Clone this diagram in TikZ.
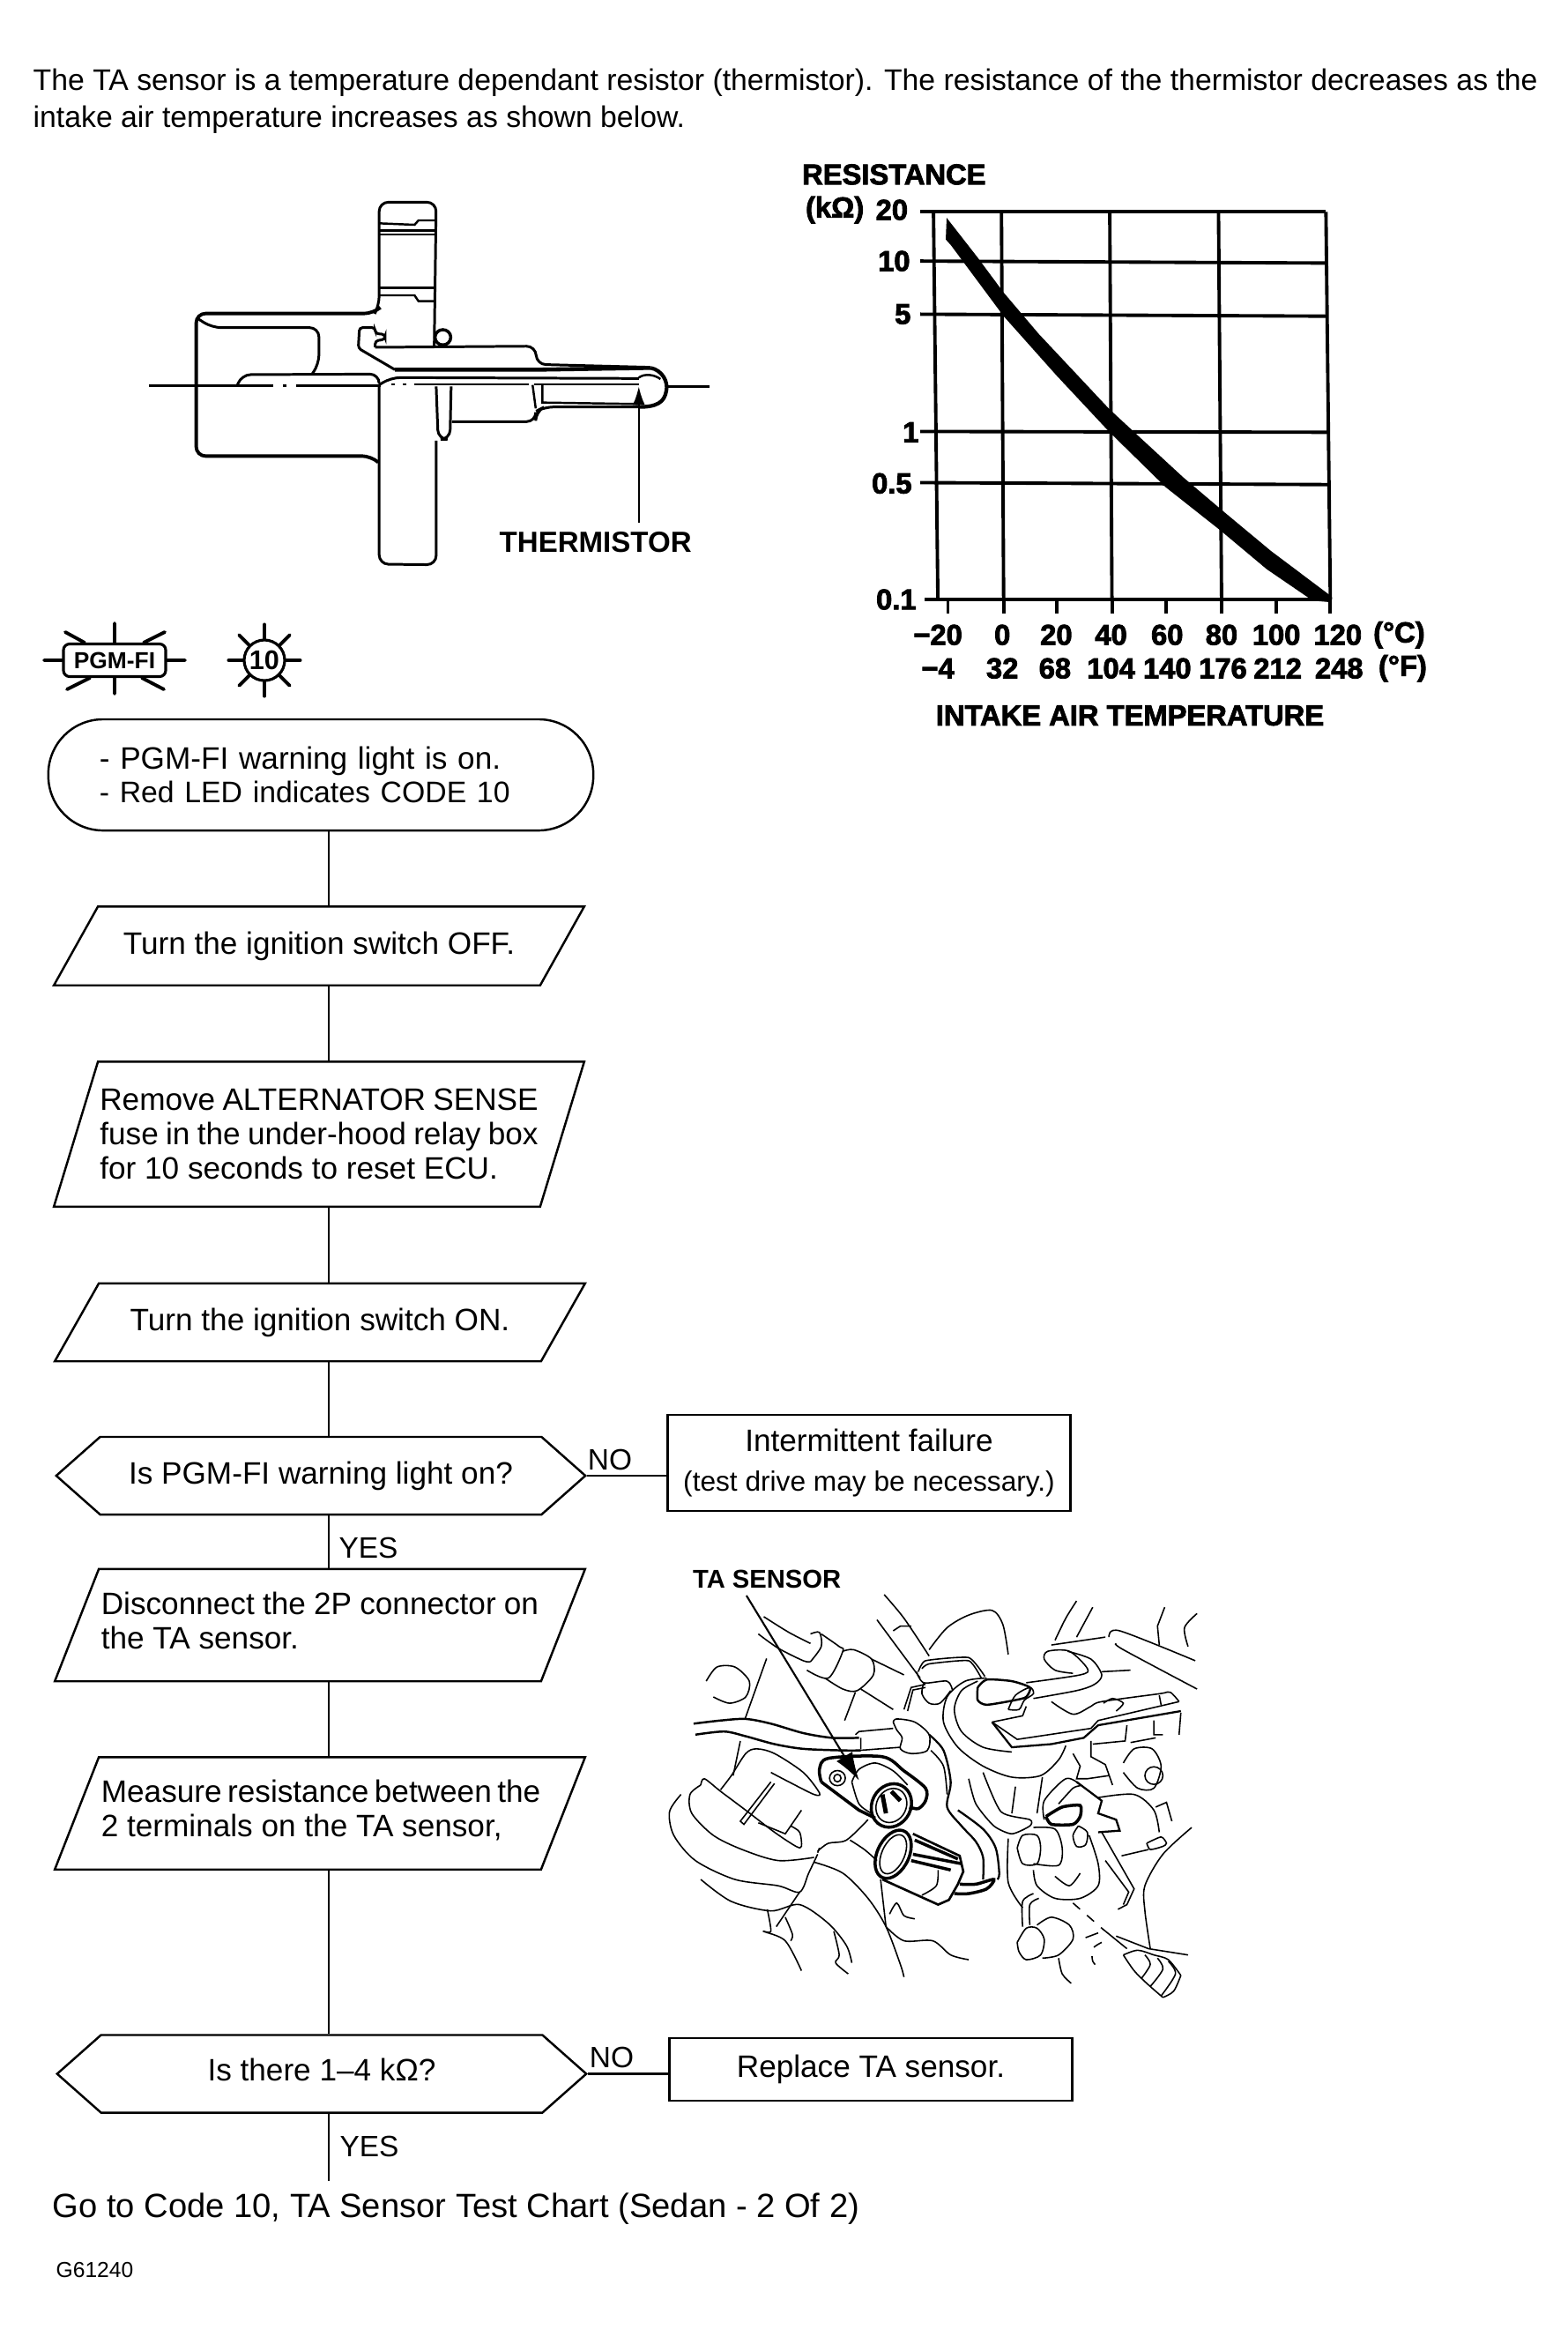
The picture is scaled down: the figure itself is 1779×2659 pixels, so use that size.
\documentclass[tikz,border=0pt]{standalone}
\usepackage{fontspec}
\setmainfont{Liberation Sans}
\newfontfamily\heavyfont[FakeBold=2.5]{Liberation Sans Bold}
\usetikzlibrary{arrows.meta,shapes.symbols}

\begin{document}
\begin{tikzpicture}[x=0.01cm,y=-0.01cm,>=Latex,
  every node/.append style={font=\fontsize{10}{11}\selectfont,inner sep=0pt},
  flowline/.style={line width=0.7pt},
  partline/.style={line width=0.85pt,rounded corners=3pt},
  gridline/.style={line width=1.1pt},
  engline/.style={line width=0.45pt},
  engthick/.style={line width=1pt},
  lampray/.style={line width=1.1pt,line cap=round},
  heavylabel/.style={font=\fontsize{9.3}{11}\heavyfont},
  stepbox/.style={minimum width=6cm},
  hexbox/.style={draw,flowline,signal,signal to=west and east,signal pointer angle=83,
    minimum width=6cm,minimum height=0.88cm},
  resultbox/.style={draw,flowline,align=center,minimum width=4.57cm},
  answer/.style={font=\fontsize{9.5}{11}\selectfont}]
  \useasboundingbox (0,0) rectangle (1779,2659);

  \node[anchor=north west,align=left,font=\fontsize{9.6}{12}\selectfont] (intro) at (37,77)
    {\makebox[17.06cm][s]{The TA sensor is a temperature dependant resistor (thermistor). The resistance of the thermistor decreases as the}\\
     intake air temperature increases as shown below.};

  % sensor section
  \begin{scope}[shift={(140,190)},xscale=0.4464,yscale=0.3333]
    \draw[partline] (640,495) -- (650,470) -- (650,118) -- (795,118) -- (790,610);
    \draw[flowline] (650,190) -- (740,195) -- (750,180) -- (795,180);
    \draw[flowline] (650,215) -- (795,215) (650,228) -- (795,228);
    \draw[flowline] (650,410) -- (790,410);
    \draw[flowline] (650,435) -- (740,435) -- (750,455) -- (790,455);
    \draw[partline,line width=1.1pt] (650,480) -- (635,497) -- (185,497) -- (185,982) -- (630,982) -- (645,1000);
    \draw[partline] (190,515) -- (225,545) -- (497,545) -- (497,670) -- (480,702);
    \draw[partline] (290,740) -- (300,705) -- (650,703) -- (650,735);
    \draw[partline] (650,745) -- (650,1350) -- (795,1352) -- (795,930);
    \draw[partline,rounded corners=1pt] (640,612) -- (640,590) -- (665,585) -- (665,568) -- (640,565) -- (640,545) -- (600,545) -- (597,615) -- (690,688);
    \draw[partline] (640,612) -- (1048,608) -- (1050,670) -- (1340,680);
    \draw[line width=1.3pt] (690,688) -- (1060,688) -- (1340,682);
    \draw[partline] (1310,718) -- (680,715) -- (650,740);
    \draw[line width=1.2pt] (1340,682) .. controls (1370,690) and (1385,730) .. (1380,760)
      .. controls (1375,800) and (1355,815) .. (1310,815);
    \draw[partline] (1310,815) -- (1070,815) -- (1048,830) -- (1048,865) -- (835,865);
    \draw[flowline] (1065,740) -- (1065,800) -- (1310,805);
    \draw[flowline] (1040,740) -- (1048,820);
    \draw[partline] (795,745) -- (800,925) -- (830,925) -- (833,745);
    \draw[flowline] (1310,715) .. controls (1325,700) and (1350,705) .. (1365,720);
    \draw[partline,line width=1pt] (812,578) circle[x radius=20,y radius=26];
    \draw[flowline] (65,743) -- (380,743) (405,743) -- (415,743) (440,743) -- (655,743)
      (680,738) -- (690,738) (710,738) -- (720,738) (740,738) -- (1030,738) (1045,738) -- (1310,738)
      (1380,746) -- (1490,746);
    \coordinate (thermtip) at (1310,745);
    \node[anchor=center,font=\fontsize{9.4}{11}\bfseries] (thermlabel) at (1200,1275) {THERMISTOR};
    \draw[-{Latex[length=6pt,width=4pt]},flowline] (thermtip |- 0,1210) -- (thermtip);
  \end{scope}

  % resistance graph
  \begin{scope}[shift={(880,160)},xscale=0.4975,yscale=0.4464]
    \foreach \ytop/\ybot/\xl/\xr in {180/180/330/1255, 305/310/330/1255, 440/445/330/1255, 738/740/330/1258, 868/873/330/1260, 1165/1165/340/1265}
      \draw[gridline] (\xl,\ytop) -- (\xr,\ybot);
    \foreach \xtop/\xbot in {360/370, 515/520, 762/767, 1010/1017, 1255/1265}
      \draw[gridline] (\xtop,180) -- (\xbot,1165);
    \foreach \xtick in {393,520,642,767,890,1017,1142,1265}
      \draw[gridline] (\xtick,1165) -- (\xtick,1200);
    \fill (390,195) -- (460,295) -- (520,385) -- (600,490) -- (760,680) -- (820,742) -- (930,855)
      -- (1020,940) -- (1130,1042) -- (1265,1155) -- (1268,1172) -- (1225,1168) -- (1120,1088)
      -- (1015,990) -- (890,880) -- (760,738) -- (640,595) -- (520,445) -- (400,265) -- (388,250) -- cycle;
    \node[heavylabel] (restitle) at (270,85) {RESISTANCE};
    \node[heavylabel] (resunit) at (135,175) {(kΩ)};
    \foreach \tx/\ty/\tv in {265/175/20, 270/305/10, 290/440/5, 308/740/1, 265/870/0.5, 275/1165/0.1}
      \node[heavylabel] (val\tv) at (\tx,\ty) {\tv};
    \foreach \tx/\tv in {370/−20, 517/0, 640/20, 765/40, 893/60, 1017/80, 1142/100, 1282/120, 1422/(°C)}
      \node[heavylabel] at (\tx,1255) {\tv};
    \foreach \tx/\tv in {370/−4, 517/32, 637/68, 765/104, 893/140, 1020/176, 1145/212, 1285/248, 1430/(°F)}
      \node[heavylabel] at (\tx,1340) {\tv};
    \node[heavylabel] (tempaxis) at (808,1460) {INTAKE AIR TEMPERATURE};
  \end{scope}

  % warning lamps
  \node[draw,line width=0.9pt,rounded corners=2pt,minimum width=1.16cm,minimum height=0.37cm,font=\fontsize{7.5}{9}\bfseries] (pgmlamp) at (130,749) {PGM-FI};
  \node[draw,circle,line width=0.9pt,minimum size=0.46cm,font=\fontsize{8.7}{10}\bfseries] (codelamp) at (300,749) {10};
  \draw[lampray] (50,749) -- (pgmlamp.west) (pgmlamp.east) -- (210,749) (130,707) -- (pgmlamp.north) (pgmlamp.south) -- (130,787)
    (74,717) -- (96,729) (187,717) -- (163,729) (76,782) -- (102,769) (186,782) -- (161,769);
  \foreach \a in {0,45,...,315}
    \draw[lampray] (codelamp.\a) -- ++(\a:0.16cm);

  % flow chart
  \node[draw,flowline,rounded corners=0.62cm,align=left,text width=5.02cm,inner xsep=0.58cm,minimum height=1.26cm] (startbox) at (364,879)
    {- PGM-FI warning light is on.\\{\fontsize{9.6}{11}\selectfont - Red LED indicates CODE 10}};
  \node[stepbox,minimum height=0.88cm] (stepoff) at (362,1073) {Turn the ignition switch OFF.};
  \node[stepbox,minimum height=1.63cm] (stepfuse) at (362,1286.5)
    {\begin{minipage}{4.97cm}\makebox[4.97cm][s]{Remove ALTERNATOR SENSE}\\\makebox[4.97cm][s]{fuse in the under-hood relay box}\\for 10 seconds to reset ECU.\end{minipage}};
  \node[stepbox,minimum height=0.87cm] (stepon) at (363,1500) {Turn the ignition switch ON.};
  \node[hexbox] (asklight) at (364,1674) {Is PGM-FI warning light on?};
  \node[resultbox,minimum height=1.09cm] (failbox) at (986,1659.5)
    {Intermittent failure\\[2pt]{\fontsize{9}{11}\selectfont (test drive may be necessary.)}};
  \node[stepbox,minimum height=1.26cm] (stepplug) at (363,1843.5)
    {\begin{minipage}{4.96cm}\makebox[4.96cm][s]{Disconnect the 2P connector on}\\the TA sensor.\par\vspace{3pt}\end{minipage}};
  \node[stepbox,minimum height=1.26cm] (stepmeter) at (363,2057)
    {\begin{minipage}{4.96cm}\makebox[4.96cm][s]{Measure resistance between the}\\2 terminals on the TA sensor,\par\vspace{2pt}\end{minipage}};
  \node[hexbox,text depth=2.8pt] (askohm) at (365,2352.5) {Is there 1–4 kΩ?};
  \node[resultbox,minimum height=0.71cm] (replacebox) at (988,2347.5) {Replace TA sensor.};

  \foreach \s in {stepoff,stepfuse,stepon,stepplug,stepmeter}
    \draw[flowline] ([xshift=0.5cm]\s.north west) -- (\s.north east) -- ([xshift=-0.5cm]\s.south east) -- (\s.south west) -- cycle;

  \coordinate (spine) at (373,0);
  \coordinate (flowend) at (373,2474);
  \foreach \a/\b in {startbox/stepoff,stepoff/stepfuse,stepfuse/stepon,stepon/asklight,asklight/stepplug,stepplug/stepmeter,stepmeter/askohm}
    \draw[flowline] (spine |- \a.south) -- (spine |- \b.north);
  \draw[flowline] (spine |- askohm.south) -- (flowend);
  \draw[flowline] (asklight.east) -- (asklight.east -| failbox.west);
  \draw[flowline] (askohm.east) -- (askohm.east -| replacebox.west);
  \node[answer] (nofail) at (692,1656) {NO};
  \node[answer] (yeslight) at (418,1756) {YES};
  \node[answer] (noohm) at (694,2334) {NO};
  \node[answer] (yesohm) at (419,2435) {YES};
  \node[anchor=west,font=\fontsize{10.85}{13}\selectfont] (gochart) at (59,2506) {Go to Code 10, TA Sensor Test Chart (Sedan - 2 Of 2)};
  \node[anchor=west,font=\fontsize{7}{9}\selectfont] (figcode) at (63,2575) {G61240};

  % engine bay
  \begin{scope}[shift={(740,1750)},xscale=0.408,yscale=0.357,every path/.append style={engline}]
    \node[font=\fontsize{8.3}{10}\bfseries] (talabel) at (319,115) {TA SENSOR};
    \coordinate (tastart) at (262,168);
    \coordinate (tatip) at (575,755);
    \draw[-{Latex[length=9pt,width=6pt]},line width=0.6pt] (tastart) -- (tatip);
    \draw plot[smooth] coordinates {(150,440) (180,395) (230,395) (270,440) (260,490) (215,510) (170,490)};
    \draw (318,368) -- (258,560) (245,630) -- (225,740);
    \draw plot[smooth] coordinates {(310,235) (380,285) (440,320)};
    \draw plot[smooth] coordinates {(295,290) (350,335) (420,375) (440,378)};
    \draw plot[smooth] coordinates {(440,290) (465,285) (470,330) (440,378)};
    \draw plot[smooth] coordinates {(470,290) (520,330) (530,345) (490,430) (430,405)};
    \draw plot[smooth] coordinates {(530,345) (560,340) (610,370) (615,420) (570,470) (530,465) (480,430)};
    \draw (610,370) -- (700,420) (565,475) -- (535,565) (580,465) -- (670,530);
    \draw[engthick,line width=0.7pt] plot[smooth] coordinates {(115,575) (190,565) (260,560) (330,575) (420,605) (500,620) (575,620)};
    \draw[engthick,line width=0.7pt] plot[smooth] coordinates {(120,610) (200,600) (260,615) (340,640) (420,655) (530,660) (580,660)};
    \draw (565,610) -- (575,600) -- (670,590) (580,620) -- (580,655) (575,660) -- (690,650);
    \draw plot[smooth] coordinates {(670,570) (680,560) (730,570) (770,610) (765,660) (720,670) (690,655) (695,620) (680,595) (670,570)};
    % sensor flange
    \draw[engthick] plot[smooth] coordinates {(470,760) (465,720) (490,685) (640,680) (700,725) (760,780) (760,820) (740,845) (715,840)};
    \draw[engthick] (470,760) -- (575,850) -- (620,875);
    \draw[engthick,rotate around={-15:(665,835)}] (665,835) ellipse[x radius=55,y radius=70];
    \draw[rotate around={-15:(665,835)}] (665,835) ellipse[x radius=42,y radius=55];
    \draw[line width=1.4pt] (640,800) -- (650,860) (665,790) -- (690,820);
    \draw (515,748) ellipse[x radius=22,y radius=24] (515,748) ellipse[x radius=10,y radius=12];
    \draw plot[smooth] coordinates {(555,760) (575,720) (620,700) (670,725) (710,770)};
    \draw plot[smooth] coordinates {(555,760) (575,830) (610,860)};
    % left cup
    \draw plot[smooth] coordinates {(80,800) (48,855) (60,930) (120,1010) (230,1070) (350,1090) (410,1110) (435,1050) (460,990)};
    \draw plot[smooth] coordinates {(135,770) (105,800) (110,860) (170,930) (250,975) (350,1010) (450,1000)};
    \draw plot[smooth] coordinates {(135,770) (145,750) (190,790) (260,850) (340,920) (400,965) (415,965) (410,920) (385,900)};
    \draw plot[smooth] coordinates {(135,1070) (220,1140) (330,1170) (410,1150) (490,1210) (540,1280) (555,1335)};
    \draw plot[smooth] coordinates {(190,785) (220,740) (260,670) (290,655) (340,670) (420,730) (465,795) (450,800) (380,760) (330,730)};
    \draw (330,760) -- (245,885) -- (255,895) -- (340,765);
    \draw (295,890) -- (370,925) -- (415,850) (460,985) -- (465,970);
    \draw plot[smooth] coordinates {(460,980) (490,955) (540,945) (600,880)};
    \draw plot[smooth] coordinates {(450,1015) (530,1050) (600,1130) (650,1220) (690,1340) (700,1380)};
    \draw (410,1110) -- (345,1220) (635,1070) -- (650,1220);
    \draw plot[smooth] coordinates {(320,1165) (330,1235) (310,1235) (370,1265) (415,1360)};
    \draw plot[smooth] coordinates {(370,1190) (390,1245) (385,1265)};
    \draw plot[smooth] coordinates {(505,1235) (520,1310) (510,1335) (545,1370)};
    \draw plot[smooth] coordinates {(550,945) (590,975) (625,1010)};
    \draw plot[smooth] coordinates {(650,1220) (700,1265) (780,1265) (830,1310) (880,1325)};
    \draw plot[smooth] coordinates {(660,1180) (680,1145) (700,1185) (730,1195)};
    % plug
    \draw[engthick,rotate around={-20:(670,990)}] (670,990) ellipse[x radius=45,y radius=80];
    \draw[rotate around={-20:(670,990)}] (670,990) ellipse[x radius=32,y radius=65];
    \draw[line width=0.75pt] (725,925) -- (855,995) -- (865,1045) -- (850,1085) -- (825,1135) -- (795,1150) -- (640,1070);
    \draw[engthick] (725,990) -- (860,1020) (730,945) -- (850,1005) (720,1010) -- (830,1040);
    \draw plot[smooth] coordinates {(795,1040) (790,1090) (750,1120)};
    \draw[engthick] plot[smooth] coordinates {(855,1085) (900,1085) (950,1070) (930,1100) (880,1115) (840,1115)};
    % harness and disc
    \draw[line width=0.65pt] plot[smooth] coordinates {(770,610) (810,660) (830,760) (820,840) (860,900) (900,950) (920,1000) (920,1070)};
    \draw plot[smooth] coordinates {(775,660) (810,710) (820,800)};
    \draw[line width=0.65pt] plot[smooth] coordinates {(850,850) (920,910) (955,970) (965,1050) (960,1070)};
    \draw plot[smooth] coordinates {(930,430) (870,440) (820,490) (810,570) (850,650) (920,710) (1000,745) (1080,740) (1130,690) (1150,645)};
    \draw plot[smooth] coordinates {(905,440) (860,470) (840,530) (860,600) (920,650) (1000,665)};
    \draw plot[smooth] coordinates {(645,165) (700,240) (770,360)};
    \draw plot[smooth] coordinates {(625,245) (680,330) (745,430)};
    \draw (670,280) -- (690,265) -- (720,265);
    \draw plot[smooth] coordinates {(770,340) (820,270) (880,230) (945,215) (975,260) (990,355)};
    \draw plot[smooth,tension=0.3] coordinates {(740,410) (760,375) (880,365) (925,425)};
    \draw plot[smooth,tension=0.3] coordinates {(750,400) (770,385) (880,375) (915,430)};
    \draw plot[smooth] coordinates {(735,410) (755,445) (820,440) (835,470)};
    \draw plot[smooth] coordinates {(755,445) (750,480) (770,510) (800,510) (830,470)};
    \draw (700,530) -- (720,460) -- (760,450) (710,535) -- (725,468) -- (760,460);
    \draw[line width=0.7pt] plot[smooth,tension=0.4] coordinates {(905,460) (930,435) (1000,440) (1050,460) (1040,490) (1010,500) (930,515) (905,500) (905,460)};
    \draw plot[smooth] coordinates {(990,530) (1010,485) (1050,460) (1060,480) (1035,500) (1020,530) (990,530)};
    \draw plot[smooth] coordinates {(1040,445) (1190,420) (1210,400) (1160,345) (1100,345) (1090,370) (1120,405) (1170,415)};
    \draw plot[smooth] coordinates {(1060,495) (1180,470) (1230,450) (1250,420) (1220,370) (1155,345)};
    \draw (1110,325) -- (1260,300) (1250,410) -- (1330,405);
    \draw plot[smooth] coordinates {(1270,300) (1300,280) (1510,375)};
    \draw plot[smooth] coordinates {(1290,320) (1310,340) (1515,465)};
    \draw plot[smooth] coordinates {(1120,310) (1150,240) (1180,185)};
    \draw (1180,300) -- (1225,205) (1405,265) -- (1425,205) (1405,265) -- (1410,325);
    \draw plot[smooth] coordinates {(1490,330) (1480,270) (1515,225)};
    % rail
    \draw (945,570) -- (1030,550) -- (1040,520);
    \draw[line width=0.65pt] (945,570) -- (1000,650) -- (1110,640) -- (1200,620) -- (1240,580) -- (1470,535);
    \draw (945,570) -- (1015,625) -- (1220,590) -- (1240,565) -- (1465,505);
    \draw plot[smooth] coordinates {(1110,505) (1170,545) (1220,520) (1250,505) (1410,480) (1440,475) (1465,505)};
    \draw plot[smooth] coordinates {(1255,510) (1280,495) (1310,510) (1290,535)};
    \draw (1410,485) -- (1415,515) (1470,540) -- (1465,610) (1320,580) -- (1315,630) -- (1225,640) (1395,565) -- (1395,610) -- (1420,610) (1330,635) -- (1400,620);
    \draw (1220,630) -- (1220,680) -- (1260,705) -- (1280,770);
    \draw plot[smooth] coordinates {(1310,700) (1340,655) (1390,655) (1415,710) (1395,780) (1350,780) (1310,730)};
    \draw (1395,740) ellipse[x radius=25,y radius=28];
    \draw (1170,670) -- (1190,710) -- (1180,750) -- (1210,750) -- (1270,740);
    \draw[line width=0.65pt] (1180,760) -- (1250,820) -- (1240,860) -- (1290,880) -- (1300,915) -- (1240,920);
    \draw plot[smooth] coordinates {(1240,810) (1340,800) (1395,850) (1410,920)};
    \draw (1400,840) -- (1430,825) -- (1445,885);
    \draw plot[smooth,tension=0.4] coordinates {(1375,955) (1415,935) (1430,955) (1420,965) (1385,975) (1375,955)};
    \draw (1305,995) -- (1380,975);
    % throttle
    \draw plot[smooth] coordinates {(1015,970) (1030,930) (1070,930) (1080,970) (1070,1020) (1030,1020) (1015,970)};
    \draw plot[smooth] coordinates {(1060,905) (1120,910) (1140,970) (1130,1025) (1060,1020)};
    \draw[engthick] plot[smooth,tension=0.4] coordinates {(1095,870) (1140,840) (1190,835) (1190,870) (1170,895) (1110,895) (1095,870)};
    \draw plot[smooth] coordinates {(1130,830) (1170,780) (1190,770) (1150,750) (1090,820) (1090,880)};
    \draw plot[smooth,tension=0.4] coordinates {(920,730) (970,855) (1050,880) (1050,900) (1000,925) (950,900) (900,830) (880,750)};
    \draw (1010,775) -- (1000,860) (1085,745) -- (1070,860);
    \draw plot[smooth] coordinates {(990,940) (990,1080) (1030,1160)};
    \draw plot[smooth] coordinates {(1060,1040) (1070,1090) (1120,1130) (1190,1130) (1240,1090) (1240,1020) (1215,930)};
    \draw plot[smooth] coordinates {(1185,900) (1210,920) (1205,960) (1180,965) (1170,930) (1185,900)};
    \draw (1250,920) -- (1340,1100) -- (1320,1150) -- (1295,1165) (1260,1010) -- (1325,1110) -- (1310,1150);
    \draw plot[smooth] coordinates {(1120,1060) (1160,1090) (1190,1050)};
    \draw plot[smooth] coordinates {(1015,1270) (1040,1225) (1070,1225) (1090,1260) (1080,1310) (1040,1325) (1020,1300) (1015,1270)};
    \draw plot[smooth] coordinates {(1070,1215) (1110,1190) (1160,1215) (1170,1260) (1130,1310) (1085,1320)};
    \draw plot[smooth] coordinates {(1030,1220) (1030,1140) (1060,1115)};
    \draw plot[smooth] coordinates {(1050,1215) (1050,1150) (1075,1130)};
    \draw plot[smooth] coordinates {(1130,1320) (1140,1370) (1165,1400)};
    \draw[dashed] (1170,1145) -- (1250,1225);
    \draw (1250,1225) -- (1320,1290) (1290,1250) -- (1380,1290) -- (1490,1310);
    \draw plot[smooth] coordinates {(1310,1310) (1350,1295) (1395,1310) (1435,1325) (1470,1375)};
    \draw plot[smooth] coordinates {(1310,1310) (1340,1360) (1375,1400) (1420,1445)};
    \draw plot[smooth] coordinates {(1470,1375) (1450,1425) (1420,1445)};
    \draw plot[smooth] coordinates {(1370,1310) (1385,1340) (1360,1385)};
    \draw plot[smooth] coordinates {(1405,1320) (1420,1355) (1385,1410)};
    \draw plot[smooth] coordinates {(1435,1330) (1455,1370) (1415,1440)};
    \draw plot[smooth] coordinates {(1500,905) (1420,990) (1370,1090) (1370,1170) (1385,1290)};
    \draw[dashed] plot[smooth] coordinates {(1250,1270) (1225,1290) (1225,1330) (1245,1355)};
    \draw (1205,1255) -- (1240,1240);
  \end{scope}
\end{tikzpicture}
\end{document}
